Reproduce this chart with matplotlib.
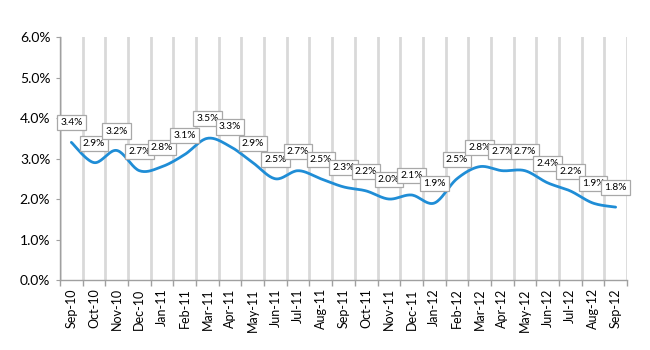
import numpy as np
import matplotlib
matplotlib.use("Agg")
import matplotlib.pyplot as plt
from matplotlib.ticker import FuncFormatter

months = ["Sep-10", "Oct-10", "Nov-10", "Dec-10", "Jan-11", "Feb-11", "Mar-11", "Apr-11",
          "May-11", "Jun-11", "Jul-11", "Aug-11", "Sep-11", "Oct-11", "Nov-11", "Dec-11",
          "Jan-12", "Feb-12", "Mar-12", "Apr-12", "May-12", "Jun-12", "Jul-12", "Aug-12", "Sep-12"]
rate = [3.4, 2.9, 3.2, 2.7, 2.8, 3.1, 3.5, 3.3, 2.9, 2.5, 2.7, 2.5, 2.3, 2.2, 2.0, 2.1,
        1.9, 2.5, 2.8, 2.7, 2.7, 2.4, 2.2, 1.9, 1.8]

plt.rcParams['font.family'] = ['Lato', 'DejaVu Sans']


def smooth(x, y, n=20, t=0.5):
    # excel-like smoothed line: cardinal spline through the points
    x = np.asarray(x, float)
    y = np.asarray(y, float)
    px = np.concatenate([[x[0]], x, [x[-1]]])
    py = np.concatenate([[y[0]], y, [y[-1]]])
    xs, ys = [], []
    for i in range(1, len(px) - 2):
        mx0 = (px[i + 1] - px[i - 1]) * t
        my0 = (py[i + 1] - py[i - 1]) * t
        mx1 = (px[i + 2] - px[i]) * t
        my1 = (py[i + 2] - py[i]) * t
        s = np.linspace(0, 1, n, endpoint=False)
        h00 = 2 * s**3 - 3 * s**2 + 1
        h10 = s**3 - 2 * s**2 + s
        h01 = -2 * s**3 + 3 * s**2
        h11 = s**3 - s**2
        xs.append(h00 * px[i] + h10 * mx0 + h01 * px[i + 1] + h11 * mx1)
        ys.append(h00 * py[i] + h10 * my0 + h01 * py[i + 1] + h11 * my1)
    xs.append([x[-1]])
    ys.append([y[-1]])
    return np.concatenate(xs), np.concatenate(ys)


fig = plt.figure(figsize=(6.5, 3.5), dpi=100)
ax = fig.add_axes([0.0923, 0.2, 0.8723, 0.694])

pos = np.arange(len(months))
sx, sy = smooth(pos, rate)
ax.plot(sx, sy, color="#1f8dd6", lw=2.0, zorder=3, solid_capstyle="round")

for p, v in zip(pos, rate):
    ax.annotate(f"{v:.1f}%", (p, v), xytext=(0, 14), textcoords="offset points",
                ha="center", va="center", fontsize=7.3, zorder=4,
                bbox=dict(boxstyle="square,pad=0.3", fc="white", ec="#a8a8a8", lw=0.9))

ax.set_xlim(-0.5, len(months) - 0.5)
ax.set_ylim(0, 6)
ax.set_yticks(np.arange(0, 7, 1))
ax.yaxis.set_major_formatter(FuncFormatter(lambda v, _: f"{v:.1f}%"))
ax.set_xticks(pos)
ax.set_xticklabels(months, rotation=90, fontsize=9)
ax.set_xticks(np.arange(-0.5, len(months)), minor=True)
ax.tick_params(axis="x", which="major", length=0, pad=6)
ax.tick_params(axis="x", which="minor", length=4, color="#a0a0a0", width=1)
ax.tick_params(axis="y", length=3, color="#a0a0a0", labelsize=10, pad=4)
ax.grid(axis="x", which="minor", color="#d9d9d9", lw=2)
ax.grid(axis="x", which="major", visible=False)

for side in ["top", "right"]:
    ax.spines[side].set_visible(False)
for side in ["left", "bottom"]:
    ax.spines[side].set_color("#a0a0a0")
    ax.spines[side].set_linewidth(1)

fig.savefig("out.png", dpi=100)
